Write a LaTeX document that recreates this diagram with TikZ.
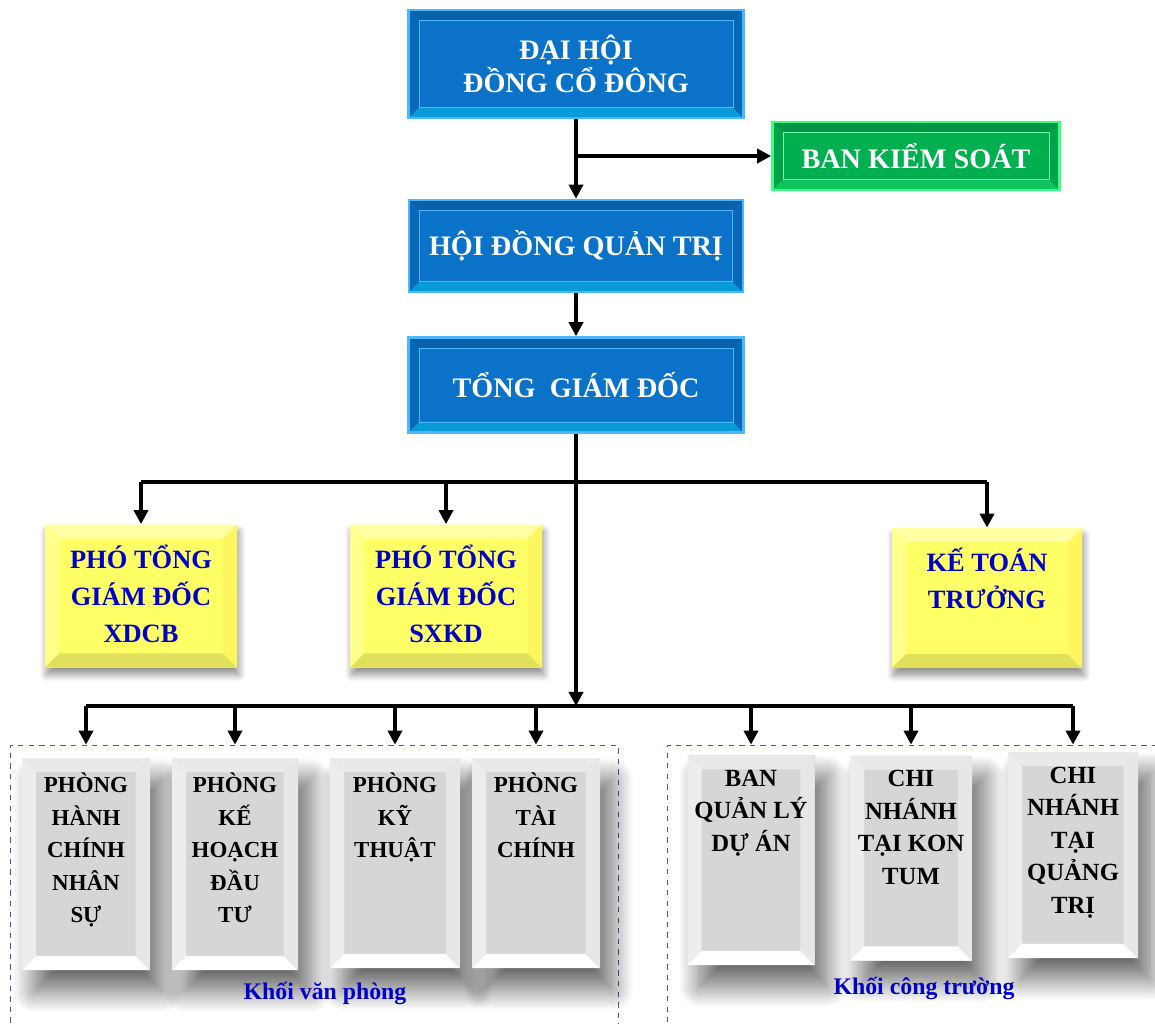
\documentclass[tikz,border=0pt]{standalone}
\usepackage{fontspec}
\setmainfont{Liberation Serif}
\usetikzlibrary{arrows.meta,positioning,calc,shadows.blur}
\newdimen\px \px=0.567pt
\definecolor{Bc}{HTML}{0A72C8}
\definecolor{Bl}{HTML}{4DB8FF}
\definecolor{Gc}{HTML}{00B050}
\definecolor{Gl}{HTML}{3CFF80}
\definecolor{Yc}{HTML}{FFFF66}
\definecolor{Kc}{HTML}{D6D6D6}
\definecolor{Tc}{HTML}{0000C8}
\definecolor{Dc}{HTML}{5050B4}
\tikzset{
  bevel/.style n args={6}{path picture={
    \coordinate (sw) at (path picture bounding box.south west);
    \coordinate (se) at (path picture bounding box.south east);
    \coordinate (ne) at (path picture bounding box.north east);
    \coordinate (nw) at (path picture bounding box.north west);
    \fill[#2] (nw) -- (ne) -- ([shift={(-#1,-#1)}]ne) -- ([shift={(#1,-#1)}]nw) -- cycle;
    \fill[#3] (nw) -- (sw) -- ([shift={(#1,#1)}]sw) -- ([shift={(#1,-#1)}]nw) -- cycle;
    \fill[#4] (sw) -- (se) -- ([shift={(-#1,#1)}]se) -- ([shift={(#1,#1)}]sw) -- cycle;
    \fill[#5] (ne) -- (se) -- ([shift={(-#1,#1)}]se) -- ([shift={(-#1,-#1)}]ne) -- cycle;
    \draw[#6] ([shift={(#1,#1)}]sw) rectangle ([shift={(-#1,-#1)}]ne);}},
  board/.style={rectangle, draw=Bl, line width=1.5pt, fill=Bc, text=white, align=center,
    font=\bfseries\fontsize{16}{19}\selectfont,
    bevel={6pt}{Bc!85!black}{Bc!92!black}{Bc!70!cyan}{Bc!92!black}{Bl, thin}},
  chk/.style={board, draw=Gl, fill=Gc,
    bevel={6pt}{Gc!85!black}{Gc!92!black}{Gc!75!Gl}{Gc!92!black}{Gl!70!white, thin}},
  vice/.style={rectangle, fill=Yc, inner sep=0pt,
    blur shadow={shadow xshift=1pt, shadow yshift=-4pt, shadow blur radius=4pt,
      shadow blur steps=12, shadow opacity=45},
    bevel={8pt}{Yc!60!white}{Yc!75!white}{Yc!88!black}{Yc!93!orange}{draw=none},
    label={[anchor=north, yshift=-8pt, align=center, text=Tc,
      font=\bfseries\fontsize{15}{21}\selectfont]north:#1}},
  room/.style n args={2}{rectangle, fill=Kc, inner sep=0pt,
    blur shadow={shadow xshift=7pt, shadow yshift=-12pt, shadow blur radius=12pt,
      shadow blur steps=30, shadow opacity=60},
    bevel={8pt}{Kc!55!white}{Kc!45!white}{white}{Kc!60!white}{draw=none},
    label={[anchor=north, yshift=-5pt, align=center,
      font=\bfseries\fontsize{#1}{18.5}\selectfont]north:#2}},
  grp/.style={rectangle, draw=Dc, dashed, thin},
  grptxt/.style={text=Tc, font=\bfseries\fontsize{13.5}{16}\selectfont},
  wire/.style={line width=2pt},
  link/.style={-{Triangle[length=8pt,width=8pt]}, line width=2pt},
}
\begin{document}
\begin{tikzpicture}[x=\px, y=-\px]
  \useasboundingbox (0,0) rectangle (1155,1023);
  % groups
  \node[grp, minimum width=608\px, minimum height=300\px] (vp) at (314,895) {};
  \node[grp, minimum width=497\px, minimum height=300\px] (ct) at (916,895) {};
  % top of the tree
  \node[board, minimum width=335\px, minimum height=108\px] (dhcd) at (576,64) {ĐẠI HỘI\\ĐỒNG CỔ ĐÔNG};
  \node[chk, minimum width=287\px, minimum height=68\px] (bks) at (916,156) {BAN KIỂM SOÁT};
  \node[board, minimum width=334\px, minimum height=92\px] (hdqt) at (576,246) {HỘI ĐỒNG QUẢN TRỊ};
  \node[board, minimum width=335\px, minimum height=95\px] (tgd) at (576,385) {TỔNG~~GIÁM ĐỐC};
  % deputies
  \node[vice={PHÓ TỔNG\\GIÁM ĐỐC\\XDCB}, minimum width=192\px, minimum height=143\px] (pgd1) at (141,596) {};
  \node[vice={PHÓ TỔNG\\GIÁM ĐỐC\\SXKD}, minimum width=192\px, minimum height=143\px] (pgd2) at (446,596) {};
  \node[vice={KẾ TOÁN\\TRƯỞNG}, minimum width=190\px, minimum height=140\px] (ktt) at (987,598) {};
  % departments
  \node[room={13}{PHÒNG\\HÀNH\\CHÍNH\\NHÂN\\SỰ}, minimum width=128\px, minimum height=212\px] (p1) at (86,864) {};
  \node[room={13}{PHÒNG\\KẾ\\HOẠCH\\ĐẦU\\TƯ}, minimum width=126\px, minimum height=212\px] (p2) at (235,864) {};
  \node[room={13}{PHÒNG\\KỸ\\THUẬT}, minimum width=130\px, minimum height=210\px] (p3) at (395,863) {};
  \node[room={13}{PHÒNG\\TÀI\\CHÍNH}, minimum width=128\px, minimum height=210\px] (p4) at (536,863) {};
  \node[room={14}{BAN\\QUẢN LÝ\\DỰ ÁN}, minimum width=127\px, minimum height=210\px] (q1) at (751,860) {};
  \node[room={14}{CHI\\NHÁNH\\TẠI KON\\TUM}, minimum width=122\px, minimum height=205\px] (q2) at (911,858) {};
  \node[room={14}{CHI\\NHÁNH\\TẠI\\QUẢNG\\TRỊ}, minimum width=130\px, minimum height=206\px] (q3) at (1073,855) {};
  \node[grptxt] (vptxt) at (325,993) {Khối văn phòng};
  \node[grptxt] (cttxt) at (924,988) {Khối công trường};
  % connectors
  \coordinate (j1) at (dhcd.south |- bks.west);
  \coordinate (b1) at (576,482);
  \coordinate (b2) at (576,706);
  \draw[link] (dhcd) -- (hdqt);
  \draw[link] (j1) -- (bks);
  \draw[link] (hdqt) -- (tgd);
  \draw[link] (tgd) -- (b2);
  \draw[wire] (pgd1.north |- b1) -- (ktt.north |- b1);
  \foreach \n in {pgd1,pgd2,ktt}
    \draw[link] (\n.north |- b1) -- (\n.north);
  \draw[wire] (p1.north |- b2) -- (q3.north |- b2);
  \foreach \n in {p1,p2,p3,p4}
    \draw[link] (\n.north |- b2) -- (\n.north |- vp.north);
  \foreach \n in {q1,q2,q3}
    \draw[link] (\n.north |- b2) -- (\n.north |- ct.north);
\end{tikzpicture}
\end{document}
